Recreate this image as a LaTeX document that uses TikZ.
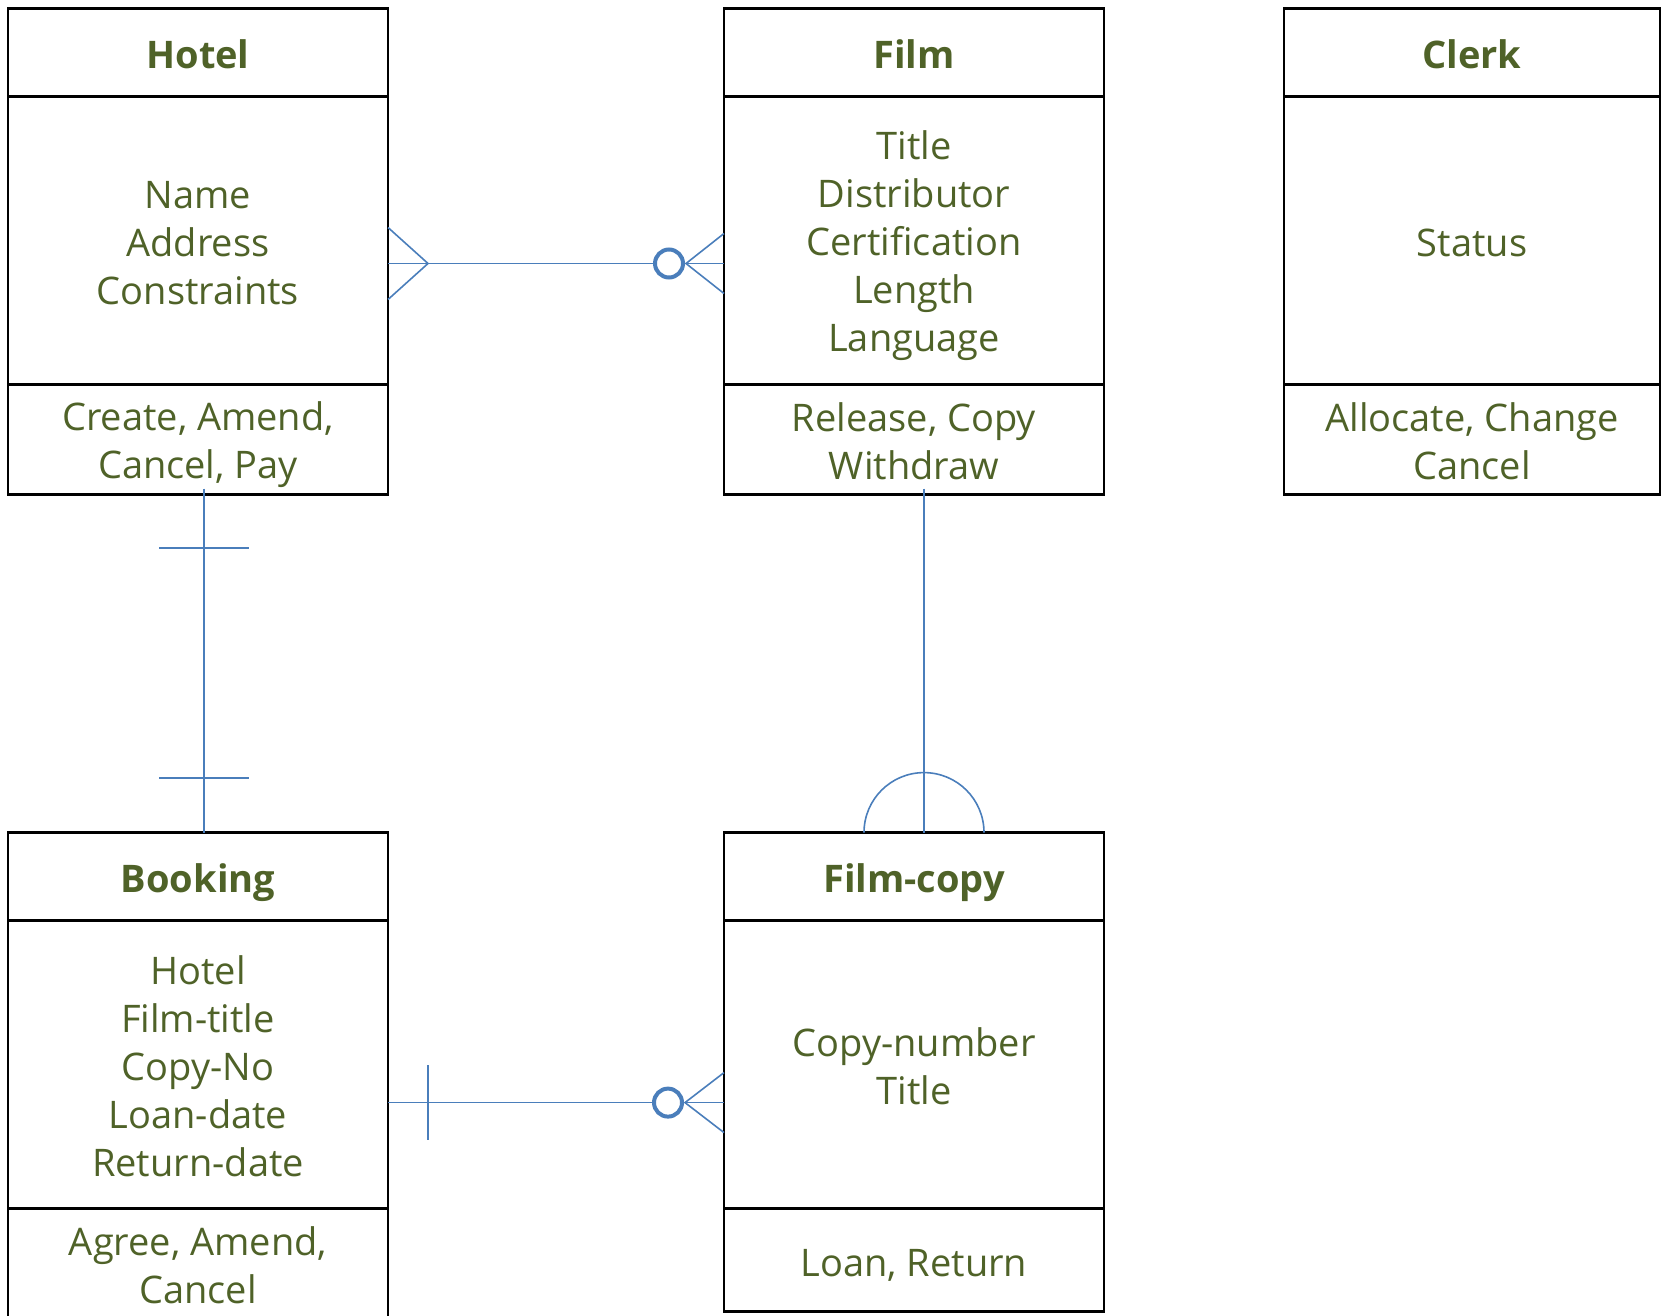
\documentclass[tikz,border=0pt]{standalone}
\usepackage{fontspec}
\setmainfont{Open Sans}
\usetikzlibrary{positioning,calc}
\definecolor{textgreen}{HTML}{4F6228}
\definecolor{relblue}{HTML}{4A7EBB}
\newcommand\topline{\rule{0pt}{40pt}}
\newcommand\lastline{\rule[-8pt]{0pt}{8pt}}
\tikzset{
  part/.style={draw=black, line width=2.5pt, minimum width=380pt, inner sep=0pt, outer sep=0pt,
    align=center, text=textgreen, font=\fontsize{38}{48}\selectfont},
  head/.style={part, minimum height=88pt, font=\fontsize{38}{48}\selectfont\bfseries},
  attrs/.style={part, minimum height=288pt},
  ops/.style={part, minimum height=110pt},
  rel/.style={draw=relblue, line width=1.6pt},
  ring/.style={draw=relblue, line width=4pt, fill=white},
}
\begin{document}
\begin{tikzpicture}[x=1pt, y=-1pt]
  \useasboundingbox (0,0) rectangle (1662,1316);
  % entities
  \node[head, anchor=north west] (hotelhead) at (8,8.5) {\topline Hotel\lastline};
  \node[attrs, below=0pt of hotelhead] (hotelattr) {\topline Name\\Address\\Constraints\lastline};
  \node[ops, below=0pt of hotelattr] (hotelops) {\topline Create, Amend,\\Cancel, Pay\lastline};

  \node[head, anchor=north west] (filmhead) at (724,8.5) {\topline Film\lastline};
  \node[attrs, below=0pt of filmhead] (filmattr) {\topline Title\\Distributor\\Certification\\Length\\Language\lastline};
  \node[ops, below=0pt of filmattr] (filmops) {\topline Release, Copy\\Withdraw\lastline};

  \node[head, minimum width=376pt, anchor=north west] (clerkhead) at (1284,8.5) {\topline Clerk\lastline};
  \node[attrs, minimum width=376pt, below=0pt of clerkhead] (clerkattr) {\topline Status\lastline};
  \node[ops, minimum width=376pt, below=0pt of clerkattr] (clerkops) {\topline Allocate, Change\\Cancel\lastline};

  \node[head, anchor=north west] (bookhead) at (8,832.6) {\topline Booking\lastline};
  \node[attrs, below=0pt of bookhead] (bookattr) {\topline Hotel\\Film-title\\Copy-No\\Loan-date\\Return-date\lastline};
  \node[ops, below=0pt of bookattr] (bookops) {\topline Agree, Amend,\\Cancel\lastline};

  \node[head, anchor=north west] (fcopyhead) at (724,832.6) {\topline Film-copy\lastline};
  \node[attrs, below=0pt of fcopyhead] (fcopyattr) {\topline Copy-number\\Title\lastline};
  \node[ops, minimum height=103pt, below=0pt of fcopyattr] (fcopyops) {\topline Loan, Return\lastline};

  % Hotel -- Film
  \coordinate (hfL) at ($(hotelattr.east)+(0,23)$);
  \coordinate (hfR) at ($(filmattr.west)+(0,23)$);
  \draw[rel] (hfL) -- (hfR);
  \draw[rel] ($(hfL)+(0,-36)$) -- ($(hfL)+(40,0)$) -- ($(hfL)+(0,36)$);
  \draw[rel] ($(hfR)+(0,-30)$) -- ($(hfR)+(-38,0)$) -- ($(hfR)+(0,30)$);
  \draw[ring] ($(hfR)+(-55,0)$) circle[radius=14pt];

  % Hotel -- Booking
  \coordinate (hbT) at ($(hotelops.south)+(6,-6)$);
  \coordinate (hbB) at ($(bookhead.north)+(6,0)$);
  \draw[rel] (hbT) -- (hbB);
  \draw[rel] ($(hbT)+(-45,59.6)$) -- ++(90,0);
  \draw[rel] ($(hbB)+(-45,-54.6)$) -- ++(90,0);

  % Film -- Film-copy
  \coordinate (ffT) at ($(filmops.south)+(10,-6)$);
  \coordinate (ffB) at ($(fcopyhead.north)+(10,0)$);
  \draw[rel] (ffT) -- (ffB);
  \draw[rel] ($(ffB)+(-60,0)$) arc[start angle=180, end angle=0, radius=60pt];

  % Booking -- Film-copy
  \coordinate (bfL) at ($(bookattr.east)+(0,38)$);
  \coordinate (bfR) at ($(fcopyattr.west)+(0,38)$);
  \draw[rel] (bfL) -- (bfR);
  \draw[rel] ($(bfL)+(40,-37.5)$) -- ++(0,75);
  \draw[rel] ($(bfR)+(0,-30)$) -- ($(bfR)+(-39,0)$) -- ($(bfR)+(0,30)$);
  \draw[ring] ($(bfR)+(-56,0)$) circle[radius=14pt];
\end{tikzpicture}
\end{document}
